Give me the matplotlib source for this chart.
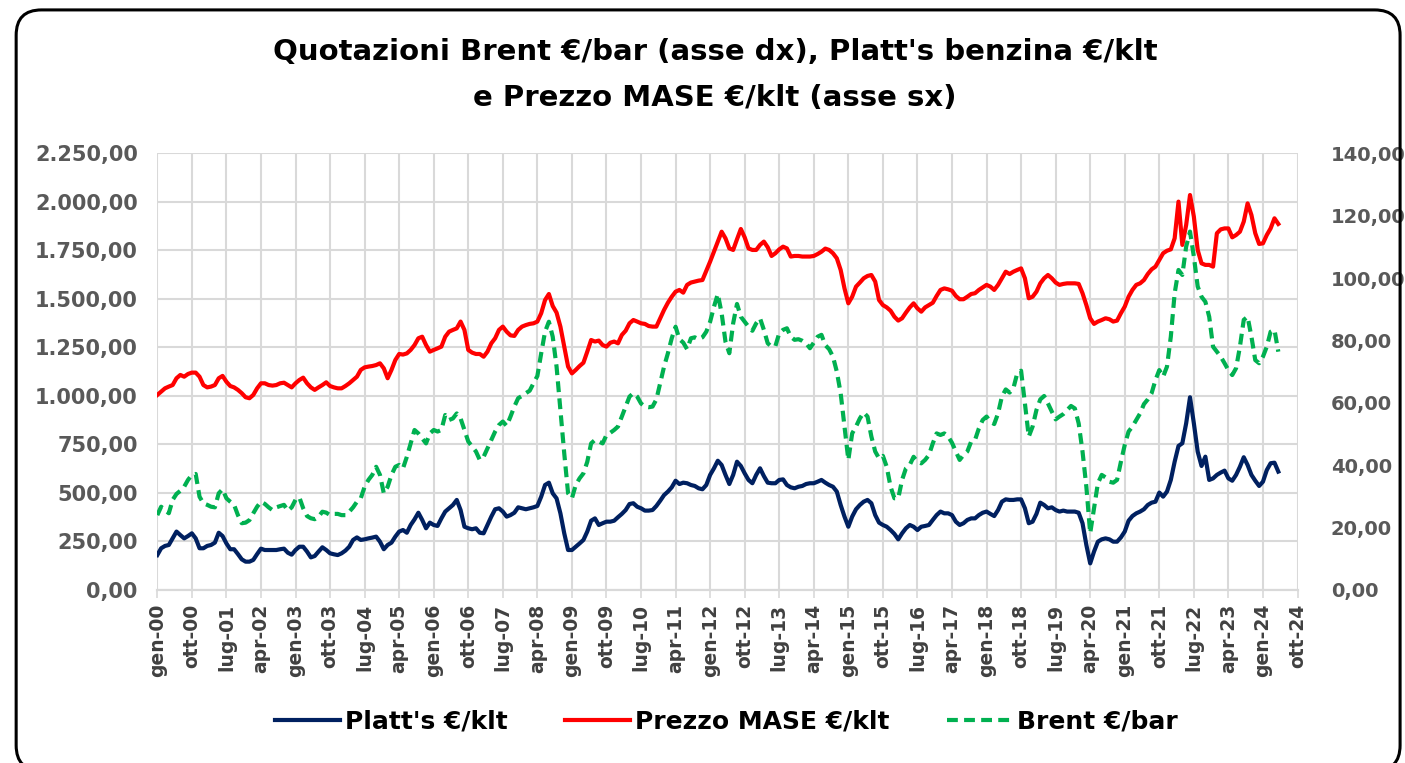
import numpy as np
import matplotlib.pyplot as plt
from matplotlib.patches import FancyBboxPatch
from matplotlib.ticker import FuncFormatter, MultipleLocator

# monthly series, gen-00 .. mag-24
platts = [
    180, 215, 227, 232, 266, 301, 283, 266, 278, 292, 266, 215, 215, 227, 232, 244, 295, 278, 240, 210,
    210, 185, 158, 146, 146, 155, 185, 213, 206, 206, 206, 206, 210, 213, 192, 182, 206, 223, 223, 198,
    168, 175,
    198, 220, 206, 189, 184, 180, 189, 203, 223, 258, 271, 258, 261, 266, 270, 275, 249, 210, 232, 244,
    275, 301, 309, 295, 335, 364, 398, 361, 318, 347, 335, 330, 369, 404, 421, 438, 464, 412, 326, 318,
    313, 318,
    295, 292, 335, 378, 416, 421, 404, 378, 386, 398, 426, 421, 416, 421, 426, 433, 481, 541, 553, 498,
    472, 395, 292, 206, 206, 223, 240, 258, 301, 357, 369, 335, 344, 352, 352, 357, 375, 392, 412, 443,
    447, 429, 421,
    409, 409, 412, 433, 460, 489, 507, 529, 563, 546, 553, 550, 541, 536, 524, 519, 541, 593, 627, 666,
    644, 593, 546, 593, 661, 639, 601, 567, 550, 593, 627, 587, 553, 550, 550, 567, 570, 541, 529, 524,
    532, 536, 546,
    550, 550, 558, 567, 553, 541, 532, 507, 438, 378, 326, 378, 416, 438, 455, 464, 447, 386, 347, 335,
    326, 309, 289, 261, 292, 318, 335, 326, 309, 326, 330, 335, 361, 386, 404, 395, 395, 386, 352, 335,
    344, 361, 369,
    369, 386, 398, 404, 392, 381, 412, 455, 467, 464, 464, 467, 467, 421, 344, 352, 392, 450, 438, 421,
    426, 412, 404, 409, 404, 404, 404, 398, 344, 232, 137, 198, 249, 261, 266, 261, 249, 249, 271, 301,
    357, 381, 395,
    404, 416, 438, 450, 455, 502, 481, 507, 567, 661, 742, 756, 859, 993, 859, 713, 639, 687, 567, 575,
    593, 605, 615, 575, 563, 593, 635, 684, 644, 593, 563, 536, 558, 618, 653, 656, 610,
]

mase = [
    1005, 1022, 1039, 1048, 1056, 1091, 1108, 1099, 1113, 1120, 1120, 1099, 1056, 1044, 1048, 1056, 1091,
    1103, 1073, 1051, 1044, 1031, 1014, 993, 988, 1005, 1039, 1065, 1065, 1056, 1053, 1056, 1065, 1068,
    1056, 1044, 1065, 1082, 1094, 1065, 1044, 1031,
    1044, 1056, 1070, 1051, 1044, 1039, 1039, 1051, 1065, 1082, 1099, 1134, 1147, 1151, 1154, 1159, 1168,
    1142, 1091, 1134, 1185, 1216, 1213, 1219, 1237, 1262, 1297, 1305, 1262, 1228, 1237, 1245, 1254, 1305,
    1331, 1340, 1348, 1383, 1340, 1237, 1223, 1216,
    1216, 1202, 1228, 1271, 1297, 1340, 1357, 1331, 1312, 1309, 1340, 1357, 1365, 1371, 1374, 1383, 1426,
    1494, 1525, 1463, 1429, 1357, 1254, 1151, 1116, 1134, 1154, 1171, 1228, 1288, 1280, 1285, 1262, 1254,
    1274, 1280, 1271, 1314, 1336, 1374, 1391, 1383, 1374,
    1371, 1360, 1357, 1357, 1400, 1443, 1480, 1511, 1537, 1546, 1532, 1572, 1584, 1589, 1594, 1597, 1645,
    1692, 1743, 1795, 1846, 1812, 1760, 1752, 1807, 1860, 1817, 1760, 1752, 1752, 1778, 1795, 1766, 1721,
    1735, 1755, 1769, 1760, 1718, 1721, 1721, 1718, 1718,
    1718, 1721, 1731, 1743, 1759, 1752, 1735, 1709, 1649, 1554, 1477, 1511, 1563, 1584, 1606, 1618, 1623,
    1589, 1494, 1468, 1456, 1439, 1408, 1388, 1400, 1429, 1456, 1477, 1451, 1434, 1456, 1468, 1480, 1515,
    1546, 1554, 1549, 1542, 1515, 1498, 1498, 1511, 1525,
    1529, 1546, 1559, 1572, 1563, 1546, 1572, 1606, 1640, 1628, 1640, 1649, 1657, 1606, 1503, 1511, 1537,
    1580, 1606, 1623, 1606, 1584, 1572, 1577, 1580, 1580, 1580, 1577, 1529, 1468, 1400, 1371, 1383, 1391,
    1400, 1395, 1383, 1388, 1426, 1460, 1511, 1546, 1572,
    1580, 1597, 1628, 1652, 1666, 1700, 1735, 1748, 1755, 1812, 2001, 1778, 1881, 2035, 1924, 1752, 1683,
    1675, 1675, 1666, 1838, 1858, 1863, 1863, 1817, 1829, 1846, 1898, 1992, 1932, 1838, 1783, 1786, 1829,
    1863, 1915, 1886,
]

brent = [
    24.0, 26.7, 25.6, 24.6, 28.9, 30.8, 31.8, 33.1, 35.3, 36.9, 37.2, 29.9, 27.8, 27.3, 26.7, 26.5, 31.0,
    32.3, 29.4, 28.3, 27.3, 24.0, 21.4, 21.6, 22.4, 24.6, 26.7, 28.3, 27.6, 26.5, 25.6, 26.5, 26.9, 27.3,
    25.4, 26.5, 28.9, 29.7, 26.2, 23.7, 23.0, 22.7,
    23.5, 25.1, 24.8, 24.0, 24.4, 24.4, 24.0, 24.0, 25.1, 26.5, 28.3, 29.4, 33.1, 35.3, 36.9, 39.5, 36.9,
    31.0, 33.1, 36.9, 39.5, 40.1, 39.0, 42.7, 47.0, 51.3, 50.2, 48.6, 47.0, 50.2, 51.3, 50.8, 51.3, 56.1,
    54.5, 55.0, 56.6, 55.0, 51.3, 47.6, 46.0, 44.4,
    41.7, 42.7, 45.4, 48.1, 50.8, 52.9, 54.0, 52.6, 55.6, 58.8, 61.5, 62.2, 63.1, 63.9, 66.3, 68.6, 75.9,
    82.8, 86.0, 81.2, 71.6, 57.7, 43.8, 31.0, 29.4, 33.7, 35.8, 37.4, 41.1, 47.0, 48.1, 47.6, 47.0, 49.7,
    50.4, 51.3, 52.4, 55.6, 58.8, 62.0, 63.1, 62.0, 59.8,
    58.8, 58.6, 58.8, 61.1, 66.3, 71.6, 75.9, 80.7, 84.4, 80.4, 79.3, 77.2, 80.7, 81.0, 80.4, 81.0, 82.8,
    86.0, 90.8, 94.9, 88.7, 79.6, 75.9, 85.5, 91.7, 87.6, 86.0, 84.4, 83.1, 85.5, 87.1, 83.4, 79.1, 78.0,
    78.2, 82.3, 83.4, 83.9, 81.2, 80.2, 80.4, 79.9, 79.1,
    77.5, 79.3, 81.2, 81.8, 78.5, 77.2, 74.8, 70.0, 63.1, 52.4, 41.7, 50.2, 52.4, 55.0, 56.9, 55.6, 49.2,
    44.4, 42.2, 43.0, 39.5, 33.1, 29.4, 29.4, 35.3, 39.0, 40.1, 42.7, 41.1, 40.6, 41.7, 43.3, 47.0, 50.2,
    49.7, 50.2, 49.2, 47.2, 44.4, 41.7, 43.3, 44.4, 47.6,
    48.1, 51.8, 54.5, 55.6, 54.0, 53.2, 56.6, 62.0, 64.3, 63.3, 64.7, 69.5, 70.3, 59.8, 49.2, 52.4, 57.7,
    61.1, 62.2, 59.8, 57.2, 54.7, 55.6, 56.4, 57.7, 59.0, 58.2, 53.4, 44.4, 33.1, 18.2, 26.2, 34.2, 36.9,
    36.1, 34.7, 34.4, 35.3, 41.1, 46.5, 50.8, 52.4, 54.5,
    56.6, 59.6, 61.1, 63.1, 67.3, 70.5, 68.4, 71.6, 81.2, 95.1, 102.6, 101.0, 110.1, 114.9, 106.9, 97.3,
    94.0, 92.4, 87.6, 78.0, 76.4, 74.8, 72.7, 70.5, 68.9, 71.1, 78.0, 86.6, 87.6, 81.2, 73.7, 72.7, 74.8,
    78.0, 82.8, 83.4, 76.4,
]

tick_labels = [
    "gen-00", "ott-00", "lug-01", "apr-02", "gen-03", "ott-03", "lug-04", "apr-05", "gen-06",
    "ott-06", "lug-07", "apr-08", "gen-09", "ott-09", "lug-10", "apr-11", "gen-12", "ott-12",
    "lug-13", "apr-14", "gen-15", "ott-15", "lug-16", "apr-17", "gen-18", "ott-18", "lug-19",
    "apr-20", "gen-21", "ott-21", "lug-22", "apr-23", "gen-24", "ott-24",
]

NAVY = "#002060"
RED = "#ff0000"
GREEN = "#00b050"
GRID = "#d9d9d9"
LABEL = "#595959"


def it_number(v, pos=None):
    s = f"{v:,.2f}"
    return s.replace(",", "X").replace(".", ",").replace("X", ".")


months = np.arange(len(mase))
tick_pos = np.arange(len(tick_labels)) * 9

fig = plt.figure(figsize=(14.05, 7.63), dpi=100)

# rounded frame around the whole chart (bottom edge falls just outside the picture)
frame = FancyBboxPatch(
    (0.0115, -0.01), 0.985, 0.997,
    boxstyle="round,pad=0,rounding_size=0.018",
    transform=fig.transFigure, fill=False, edgecolor="black", linewidth=2.2,
    mutation_aspect=1405 / 763,
)
fig.patches.append(frame)

ax = fig.add_axes([0.11196, 0.22674, 0.81153, 0.57235])
ax2 = ax.twinx()

ax.plot(months, platts, color=NAVY, lw=3, label="Platt's €/klt", solid_joinstyle="round")
ax.plot(months, mase, color=RED, lw=3, label="Prezzo MASE €/klt", solid_joinstyle="round")
ax2.plot(months, brent, color=GREEN, lw=3, dashes=(2.6, 1.5), label="Brent €/bar")

ax.set_xlim(0, 297)
ax.set_ylim(0, 2250)
ax2.set_ylim(0, 140)
ax.yaxis.set_major_locator(MultipleLocator(250))
ax2.yaxis.set_major_locator(MultipleLocator(20))
ax.yaxis.set_major_formatter(FuncFormatter(it_number))
ax2.yaxis.set_major_formatter(FuncFormatter(it_number))

ax.set_xticks(tick_pos)
ax.set_xticklabels(tick_labels, rotation=90, fontsize=13.5, fontweight="bold", color="#404040")
ax.tick_params(axis="x", length=6, width=1.2, color=GRID, pad=4)
ax.tick_params(axis="y", length=0, pad=14, labelsize=15, labelcolor=LABEL)
ax2.tick_params(axis="y", length=0, pad=24, labelsize=14, labelcolor=LABEL)
for lab in ax.get_yticklabels() + ax2.get_yticklabels():
    lab.set_fontweight("bold")

ax.grid(True, color=GRID, lw=1.5)
ax.set_axisbelow(True)
for a in (ax, ax2):
    for side in ("top", "left", "right"):
        a.spines[side].set_visible(False)
    a.spines["bottom"].set_color(GRID)
    a.spines["bottom"].set_linewidth(1.5)

fig.text(0.509, 0.932, "Quotazioni Brent €/bar (asse dx), Platt's benzina €/klt",
         ha="center", va="center", fontsize=21, fontweight="bold", color="black")
fig.text(0.509, 0.871, "e Prezzo MASE €/klt (asse sx)",
         ha="center", va="center", fontsize=21, fontweight="bold", color="black")

handles = ax.get_lines() + ax2.get_lines()
fig.legend(handles, [h.get_label() for h in handles], loc="center", bbox_to_anchor=(0.517, 0.054),
           ncol=3, frameon=False, handlelength=2.6, columnspacing=2.3, handletextpad=0.2,
           prop={"weight": "bold", "size": 18})

fig.savefig("out.png", dpi=100)
